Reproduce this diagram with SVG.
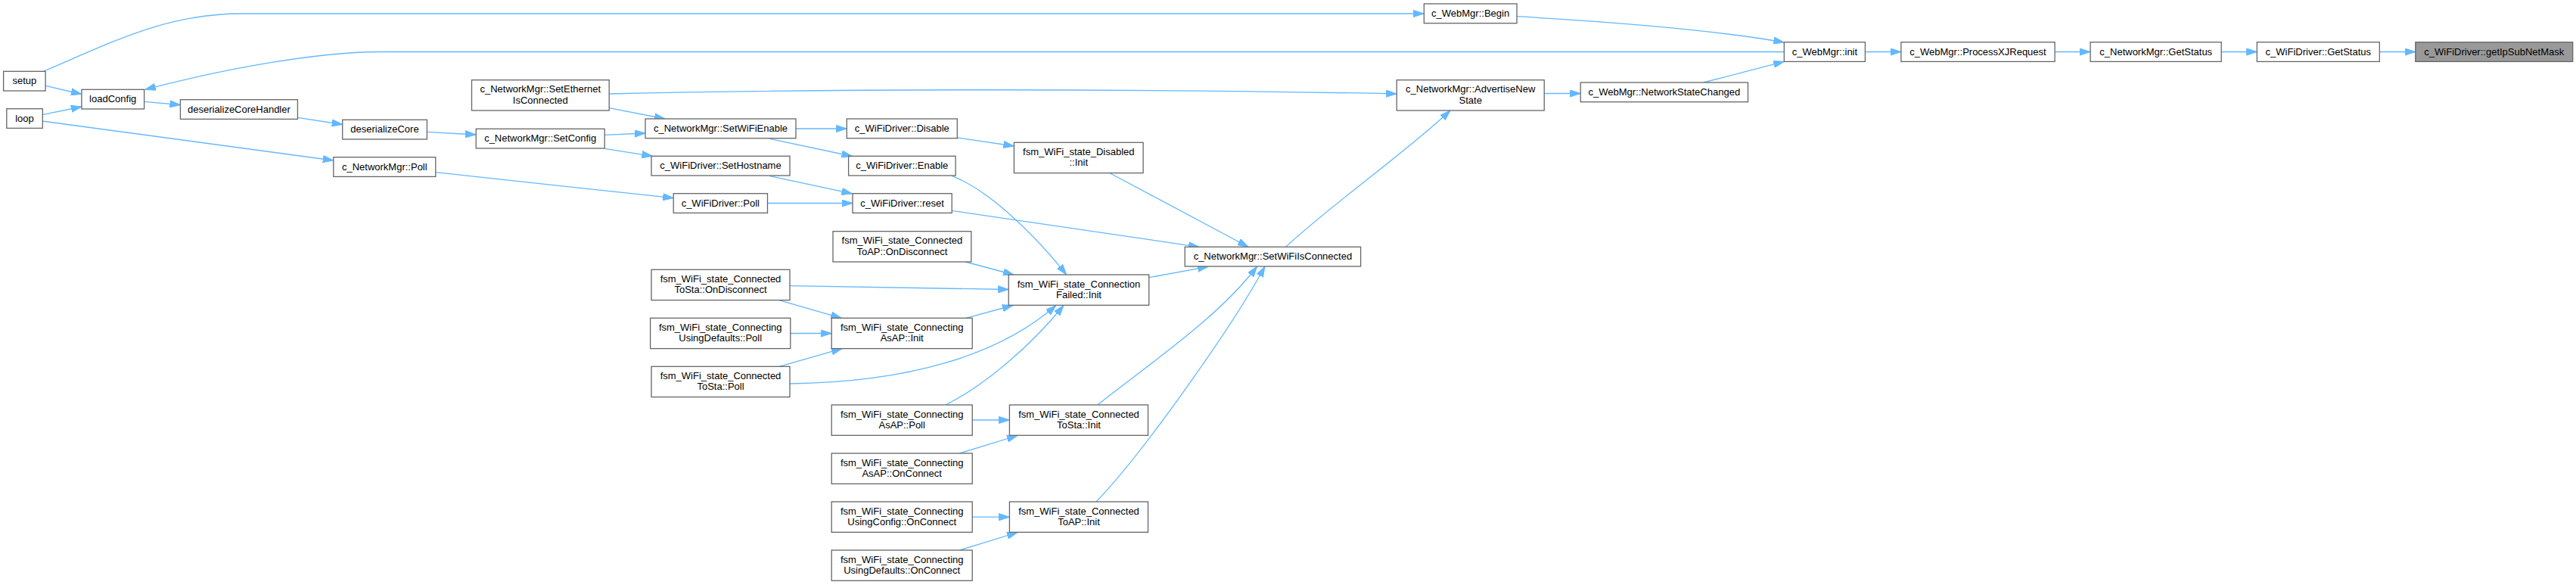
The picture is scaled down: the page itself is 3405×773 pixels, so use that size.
<svg xmlns="http://www.w3.org/2000/svg" width="3405" height="773" viewBox="0 0 3405 773">
<style>
.n rect{fill:#ffffff;stroke:#666666;stroke-width:1.3}
.hl rect{fill:#999999;stroke:#666666;stroke-width:1.3}
text{font-family:"Liberation Sans",Arial,Helvetica,sans-serif;font-size:13px;fill:#000000;text-anchor:middle}
#edges path{fill:none;stroke:#63b8ff;stroke-width:1.3;marker-end:url(#ah)}
</style>
<defs>
<marker id="ah" markerUnits="userSpaceOnUse" markerWidth="15" markerHeight="10" viewBox="0 0 15 10" refX="14" refY="5" orient="auto">
<path d="M0,0.4 L14,5 L0,9.6 Z" fill="#63b8ff" stroke="#63b8ff" stroke-width="1"/>
</marker>
</defs>
<rect x="0" y="0" width="3405" height="773" fill="#ffffff"/>
<g id="edges">
<path d="M58,94 C150,55 220,18 320,18 L1882,18"/>
<path d="M60.5,113.3 L107.9,124.5"/>
<path d="M56,151.7 L107.9,141"/>
<path d="M56,160 L440.8,212"/>
<path d="M2358.3,68.5 L500,68.5 C420,69 300,90 191.7,118.3"/>
<path d="M190.6,134.3 L238.4,138.5"/>
<path d="M393.4,155.3 L452.7,164.5"/>
<path d="M564.4,174.3 L629.2,178"/>
<path d="M575.8,227.7 L890.2,261.7"/>
<path d="M805.2,142.7 L879,157"/>
<path d="M805.2,124 C1100,117 1500,117 1846.2,124"/>
<path d="M799.2,178.3 L853,176"/>
<path d="M799.2,196.3 L862.5,206.3"/>
<path d="M1052,170 L1119.3,170"/>
<path d="M1017.6,183.3 L1126.5,206.5"/>
<path d="M1017.6,232.7 L1126.5,255.9"/>
<path d="M1014.5,268.5 L1127,268.5"/>
<path d="M1265.4,182 L1340.4,193"/>
<path d="M1258.5,232.7 C1300,248 1360,300 1409.7,363"/>
<path d="M1258.2,278.3 L1585,326.3"/>
<path d="M1467,228.7 L1650,326.3"/>
<path d="M1276,346 L1340,363"/>
<path d="M1518.7,366.7 L1597,352.3"/>
<path d="M1044,377.7 L1333.2,382.5"/>
<path d="M1029.8,396.6 L1112.2,420.3"/>
<path d="M1044.8,440.5 L1099.2,440.5"/>
<path d="M1029.8,484.3 L1113,460.6"/>
<path d="M1043.8,507 C1200,505 1320,470 1396,403.5"/>
<path d="M1250,535 C1300,510 1360,460 1406,403.5"/>
<path d="M1276.7,420.3 L1339,403.5"/>
<path d="M1285.2,555 L1334.4,555"/>
<path d="M1268.3,599 L1345,575.5"/>
<path d="M1285.2,683.2 L1334.4,683.2"/>
<path d="M1268.3,727 L1345,703.5"/>
<path d="M1450.8,535 C1520,480 1610,420 1661.7,352"/>
<path d="M1449,663 C1510,600 1630,430 1672,352"/>
<path d="M1699.5,326.3 C1760,270 1860,200 1917,146"/>
<path d="M2041.1,123.5 L2089.2,123.5"/>
<path d="M2005,21.7 C2150,30 2280,42 2358.3,56"/>
<path d="M2251.7,109 L2358.3,81.3"/>
<path d="M2465.4,68.5 L2512.9,68.5"/>
<path d="M2716.1,68.5 L2763.1,68.5"/>
<path d="M2936.2,68.5 L2983.3,68.5"/>
<path d="M3145.3,68.5 L3192.8,68.5"/>
</g>
<g id="n_setup" class="n"><rect x="4.6" y="94.3" width="55.5" height="25.7"/><text x="32.4" y="111.3">setup</text></g>
<g id="n_loop" class="n"><rect x="8.8" y="143.7" width="47.5" height="25.7"/><text x="32.5" y="160.7">loop</text></g>
<g id="n_loadConfig" class="n"><rect x="107.9" y="118.3" width="82.7" height="25.7"/><text x="149.2" y="135.3">loadConfig</text></g>
<g id="n_deserializeCoreHandler" class="n"><rect x="238.4" y="131.7" width="155" height="25.7"/><text x="315.9" y="148.7">deserializeCoreHandler</text></g>
<g id="n_deserializeCore" class="n"><rect x="452.7" y="158.3" width="111.7" height="25.7"/><text x="508.5" y="175.3">deserializeCore</text></g>
<g id="n_netmgr_poll" class="n"><rect x="440.8" y="207.7" width="135" height="25.7"/><text x="508.3" y="224.7">c_NetworkMgr::Poll</text></g>
<g id="n_setethernet" class="n"><rect x="623.5" y="105.7" width="181.7" height="40.3"/><text x="714.3" y="122.2">c_NetworkMgr::SetEthernet</text><text x="714.3" y="136.7">IsConnected</text></g>
<g id="n_setconfig" class="n"><rect x="629.2" y="170.3" width="170" height="25.7"/><text x="714.2" y="187.3">c_NetworkMgr::SetConfig</text></g>
<g id="n_setwifienable" class="n"><rect x="853" y="157" width="199" height="25.7"/><text x="952.5" y="174">c_NetworkMgr::SetWiFiEnable</text></g>
<g id="n_sethostname" class="n"><rect x="861" y="206.3" width="183" height="25.7"/><text x="952.5" y="223.3">c_WiFiDriver::SetHostname</text></g>
<g id="n_wifidriver_poll" class="n"><rect x="890.2" y="255.7" width="124.3" height="25.7"/><text x="952.3" y="272.7">c_WiFiDriver::Poll</text></g>
<g id="n_sta_ondisconnect" class="n"><rect x="861" y="356.3" width="183" height="40.3"/><text x="952.5" y="372.8">fsm_WiFi_state_Connected</text><text x="952.5" y="387.3">ToSta::OnDisconnect</text></g>
<g id="n_usingdefaults_poll" class="n"><rect x="859.6" y="420.3" width="185.2" height="40.3"/><text x="952.2" y="436.8">fsm_WiFi_state_Connecting</text><text x="952.2" y="451.3">UsingDefaults::Poll</text></g>
<g id="n_sta_poll" class="n"><rect x="861" y="484.3" width="183" height="40.3"/><text x="952.5" y="500.8">fsm_WiFi_state_Connected</text><text x="952.5" y="515.3">ToSta::Poll</text></g>
<g id="n_disable" class="n"><rect x="1119.3" y="157" width="146" height="25.7"/><text x="1192.3" y="174">c_WiFiDriver::Disable</text></g>
<g id="n_enable" class="n"><rect x="1121.6" y="206.3" width="141.5" height="25.7"/><text x="1192.3" y="223.3">c_WiFiDriver::Enable</text></g>
<g id="n_reset" class="n"><rect x="1127" y="255.7" width="131.2" height="25.7"/><text x="1192.6" y="272.7">c_WiFiDriver::reset</text></g>
<g id="n_ap_ondisconnect" class="n"><rect x="1101" y="305.7" width="182.8" height="40.3"/><text x="1192.4" y="322.2">fsm_WiFi_state_Connected</text><text x="1192.4" y="336.7">ToAP::OnDisconnect</text></g>
<g id="n_asap_init" class="n"><rect x="1099.2" y="420.3" width="186" height="40.3"/><text x="1192.2" y="436.8">fsm_WiFi_state_Connecting</text><text x="1192.2" y="451.3">AsAP::Init</text></g>
<g id="n_asap_poll" class="n"><rect x="1099.2" y="535" width="186" height="40.3"/><text x="1192.2" y="551.5">fsm_WiFi_state_Connecting</text><text x="1192.2" y="566">AsAP::Poll</text></g>
<g id="n_asap_onconnect" class="n"><rect x="1099.2" y="599" width="186" height="40.3"/><text x="1192.2" y="615.5">fsm_WiFi_state_Connecting</text><text x="1192.2" y="630">AsAP::OnConnect</text></g>
<g id="n_usingconfig_onconnect" class="n"><rect x="1099.2" y="663" width="186" height="40.3"/><text x="1192.2" y="679.5">fsm_WiFi_state_Connecting</text><text x="1192.2" y="694">UsingConfig::OnConnect</text></g>
<g id="n_usingdefaults_onconnect" class="n"><rect x="1099.2" y="727" width="186" height="40.3"/><text x="1192.2" y="743.5">fsm_WiFi_state_Connecting</text><text x="1192.2" y="758">UsingDefaults::OnConnect</text></g>
<g id="n_disabled_init" class="n"><rect x="1340.4" y="188.3" width="170.7" height="40.3"/><text x="1425.8" y="204.8">fsm_WiFi_state_Disabled</text><text x="1425.8" y="219.3">::Init</text></g>
<g id="n_connfailed_init" class="n"><rect x="1333.2" y="363" width="185.5" height="40.3"/><text x="1426" y="379.5">fsm_WiFi_state_Connection</text><text x="1426" y="394">Failed::Init</text></g>
<g id="n_sta_init" class="n"><rect x="1334.4" y="535" width="183.1" height="40.3"/><text x="1426" y="551.5">fsm_WiFi_state_Connected</text><text x="1426" y="566">ToSta::Init</text></g>
<g id="n_ap_init" class="n"><rect x="1334.4" y="663" width="183.1" height="40.3"/><text x="1426" y="679.5">fsm_WiFi_state_Connected</text><text x="1426" y="694">ToAP::Init</text></g>
<g id="n_setwifiisconnected" class="n"><rect x="1566.2" y="326.3" width="232.4" height="25.7"/><text x="1682.4" y="343.3">c_NetworkMgr::SetWiFiIsConnected</text></g>
<g id="n_advertise" class="n"><rect x="1846.2" y="105.7" width="195" height="40.3"/><text x="1943.7" y="122.2">c_NetworkMgr::AdvertiseNew</text><text x="1943.7" y="136.7">State</text></g>
<g id="n_begin" class="n"><rect x="1882.3" y="5" width="122.7" height="25.7"/><text x="1943.6" y="22">c_WebMgr::Begin</text></g>
<g id="n_networkstatechanged" class="n"><rect x="2089.2" y="109" width="221.3" height="25.7"/><text x="2199.8" y="126">c_WebMgr::NetworkStateChanged</text></g>
<g id="n_init" class="n"><rect x="2358.3" y="55.7" width="107.1" height="25.7"/><text x="2411.9" y="72.7">c_WebMgr::init</text></g>
<g id="n_processxj" class="n"><rect x="2512.9" y="55.7" width="203.2" height="25.7"/><text x="2614.5" y="72.7">c_WebMgr::ProcessXJRequest</text></g>
<g id="n_netmgr_getstatus" class="n"><rect x="2763.1" y="55.7" width="173.1" height="25.7"/><text x="2849.7" y="72.7">c_NetworkMgr::GetStatus</text></g>
<g id="n_wifidriver_getstatus" class="n"><rect x="2983.3" y="55.7" width="162" height="25.7"/><text x="3064.3" y="72.7">c_WiFiDriver::GetStatus</text></g>
<g id="n_getipsubnetmask" class="hl"><rect x="3192.8" y="55.7" width="207.9" height="25.7"/><text x="3296.8" y="72.7">c_WiFiDriver::getIpSubNetMask</text></g>
</svg>
